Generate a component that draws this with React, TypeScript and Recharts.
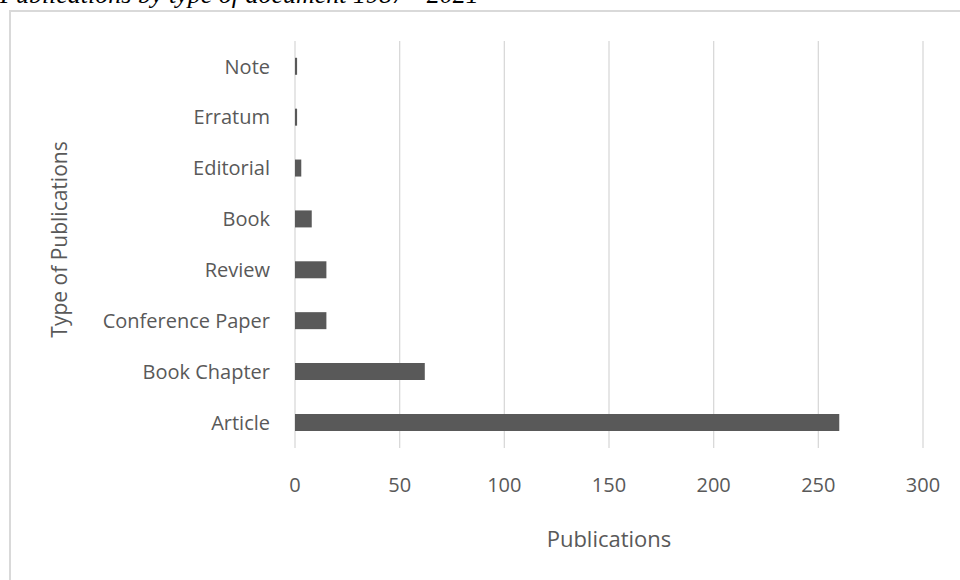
import React from "react";
import { BarChart, Bar, XAxis, YAxis, CartesianGrid } from "recharts";

const categories = ["Note", "Erratum", "Editorial", "Book", "Review", "Conference Paper", "Book Chapter", "Article"];
const publications = [1, 1, 3, 8, 15, 15, 62, 260];
const xTicks = [0, 50, 100, 150, 200, 250, 300];

const data = categories.map((type, i) => ({ type, count: publications[i] }));

const FONT = "'Open Sans', sans-serif";
const GREY = "#595959";

function YLabel(props: any) {
  const vb = props.viewBox || { x: 0, y: 0, width: 0, height: 0 };
  const x = vb.x + 67;
  const y = vb.y + vb.height / 2 - 5;
  return (
    <text
      x={x}
      y={y}
      transform={`rotate(-90 ${x} ${y})`}
      textAnchor="middle"
      fill={GREY}
      fontSize={21}
      fontFamily={FONT}
    >
      Type of Publications
    </text>
  );
}

export default function App() {
  return (
    <div style={{ position: "absolute", left: 0, top: 0, width: 960, height: 580, overflow: "hidden", background: "#fff" }}>
      <div
        style={{
          position: "absolute",
          left: 9,
          top: 10,
          width: 960,
          height: 600,
          borderLeft: "2px solid #d9d9d9",
          borderTop: "2px solid #d9d9d9",
        }}
      />
      <svg width={960} height={20} style={{ position: "absolute", left: 0, top: 0 }}>
        <text x={0} y={3} fontSize={26} fontStyle="italic" fontFamily="'Liberation Serif', 'Times New Roman', serif" fill="#000">
          Publications by type of document 1987 - 2021
        </text>
      </svg>
      <div style={{ position: "absolute", left: 0, top: 0 }}>
        <BarChart
          width={960}
          height={580}
          data={data}
          layout="vertical"
          margin={{ top: 41, right: 37, bottom: 0, left: 0 }}
          barCategoryGap="33%"
        >
          <CartesianGrid horizontal={false} stroke="#d9d9d9" strokeWidth={1.3} />
          <XAxis
            type="number"
            domain={[0, 300]}
            ticks={xTicks}
            height={132}
            axisLine={false}
            tickLine={false}
            tickSize={0}
            tickMargin={30}
            tick={{ fill: GREY, fontSize: 20, fontFamily: FONT }}
            label={{ value: "Publications", position: "insideBottom", offset: 33, fill: GREY, fontSize: 22, fontFamily: FONT }}
          />
          <YAxis
            type="category"
            dataKey="type"
            width={295}
            axisLine={false}
            tickLine={false}
            tickSize={0}
            tickMargin={25}
            interval={0}
            tick={{ fill: GREY, fontSize: 20, fontFamily: FONT }}
            label={<YLabel />}
          />
          <Bar dataKey="count" fill={GREY} isAnimationActive={false} />
        </BarChart>
      </div>
    </div>
  );
}
